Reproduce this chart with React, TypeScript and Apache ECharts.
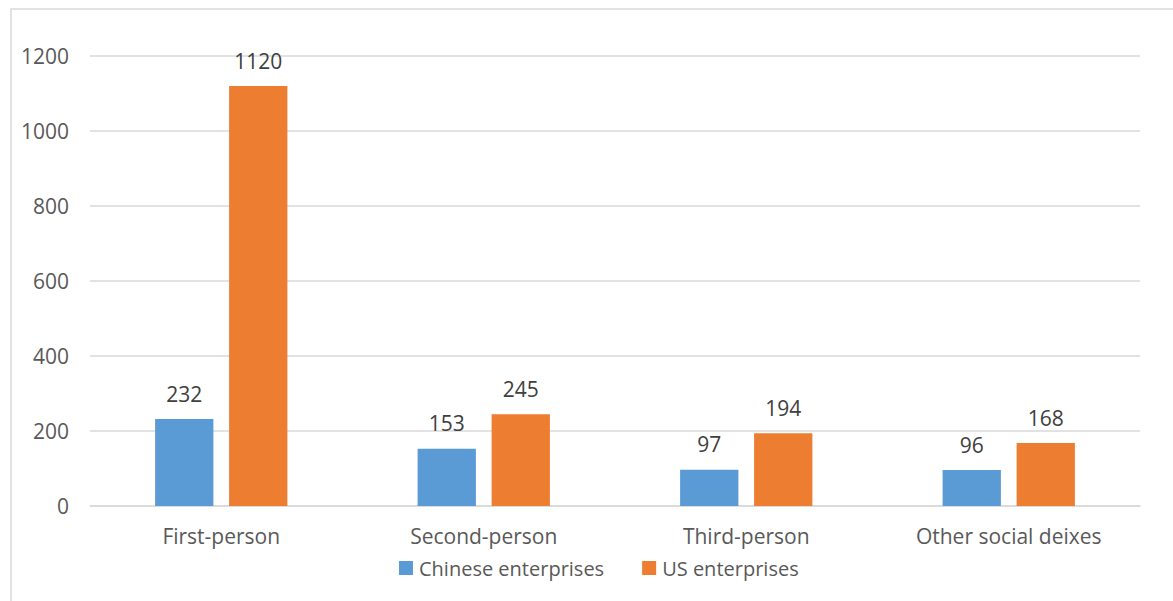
import React, { useEffect, useRef } from "react";
import * as echarts from "echarts";

const categories = ["First-person", "Second-person", "Third-person", "Other social deixes"];
const chineseValues = [232, 153, 97, 96];
const usValues = [1120, 245, 194, 168];
const seriesNames = ["Chinese enterprises", "US enterprises"];

const FONT = "'Open Sans', 'Liberation Sans', sans-serif";
const TEXT = "#595959";
const SIZE = 21;

export default function App() {
  const ref = useRef<HTMLDivElement>(null);

  useEffect(() => {
    if (!ref.current) return;
    const chart = echarts.init(ref.current, null, { renderer: "svg" });
    chart.setOption({
      animation: false,
      backgroundColor: "#ffffff",
      textStyle: { fontFamily: FONT, color: TEXT },
      graphic: [
        {
          type: "rect",
          shape: { x: 11, y: 9, width: 1300, height: 800 },
          style: { fill: "none", stroke: "#d9d9d9", lineWidth: 1.5 },
          silent: true,
        },
      ],
      grid: { left: 90, right: 33, top: 56, bottom: 95 },
      legend: {
        data: seriesNames,
        left: 394,
        top: 553,
        icon: "rect",
        itemWidth: 14,
        itemHeight: 14,
        itemGap: 38,
        textStyle: { fontFamily: FONT, fontSize: 20, color: TEXT, padding: [0, 0, 0, 1] },
      },
      xAxis: {
        type: "category",
        data: categories,
        axisLine: { show: true, lineStyle: { color: "#d9d9d9", width: 1.5 } },
        axisTick: { show: false },
        axisLabel: { fontFamily: FONT, fontSize: SIZE, color: TEXT, margin: 19 },
      },
      yAxis: {
        type: "value",
        min: 0,
        max: 1200,
        interval: 200,
        axisLine: { show: false },
        axisTick: { show: false },
        splitLine: { lineStyle: { color: "#d9d9d9", width: 1.5 } },
        axisLabel: {
          fontFamily: FONT,
          fontSize: SIZE,
          color: TEXT,
          margin: 21,
          formatter: (v: number) => String(v),
        },
      },
      series: [
        {
          name: seriesNames[0],
          type: "bar",
          data: chineseValues,
          barWidth: "22.2%",
          barGap: "27%",
          itemStyle: { color: "#5B9BD5" },
          label: { show: true, position: "top", distance: 15, fontFamily: FONT, fontSize: SIZE, color: "#404040" },
        },
        {
          name: seriesNames[1],
          type: "bar",
          data: usValues,
          barWidth: "22.2%",
          barGap: "27%",
          itemStyle: { color: "#ED7D31" },
          label: { show: true, position: "top", distance: 15, fontFamily: FONT, fontSize: SIZE, color: "#404040" },
        },
      ],
    });
    return () => chart.dispose();
  }, []);

  return (
    <div
      ref={ref}
      style={{ position: "fixed", left: 0, top: 0, width: 1173, height: 601 }}
    />
  );
}
